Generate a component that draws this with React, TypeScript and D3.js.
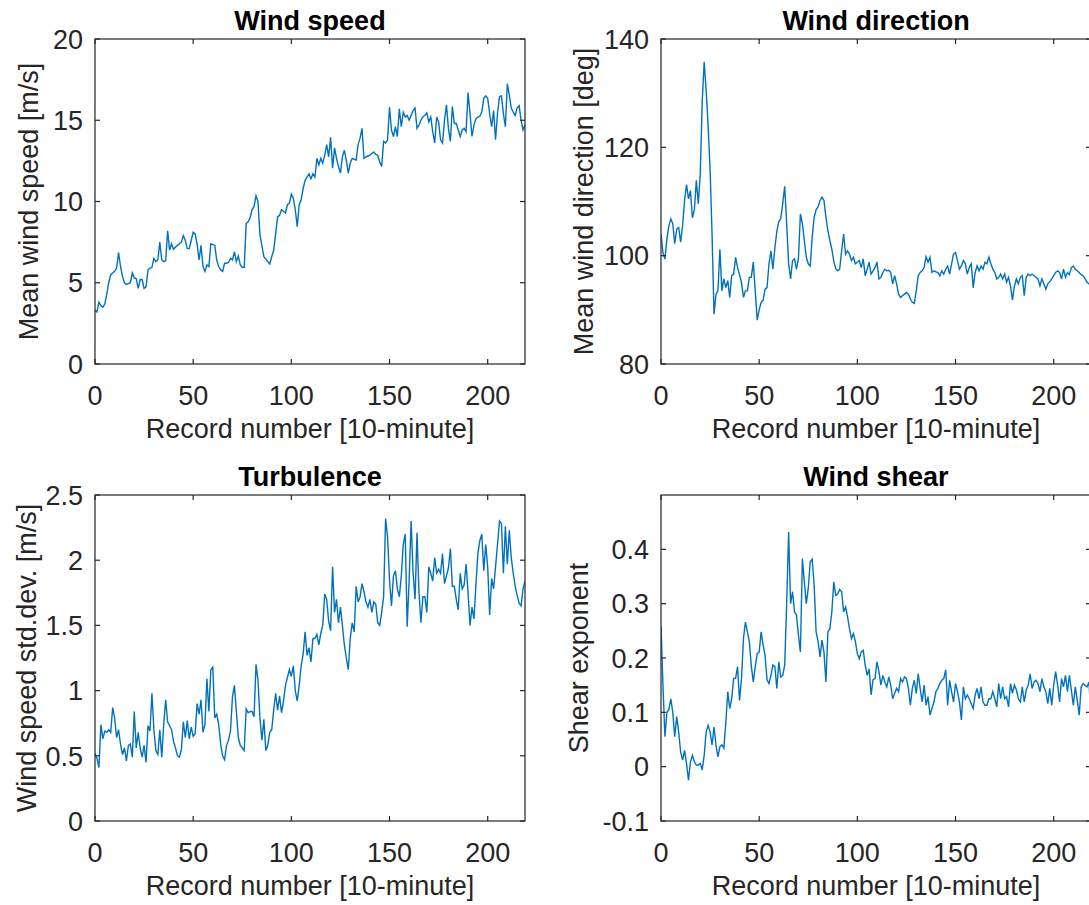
import React from "react";
import * as d3 from "d3";

const windSpeed = [
  3.3, 3.2, 3.8, 3.6, 3.5, 3.7, 4.3, 5.0, 5.5, 5.6, 5.7, 5.9, 6.85, 6.0, 5.4, 5.0, 4.9, 4.95, 5.0, 5.6,
  5.3, 5.25, 4.65, 5.2, 5.2, 4.65, 4.75, 5.8, 5.9, 5.95, 6.5, 6.3, 6.4, 7.5, 6.4, 6.3, 6.35, 8.2, 7.0, 7.4,
  7.05, 7.2, 7.3, 7.4, 7.5, 7.9, 7.6, 7.1, 7.1, 7.6, 8.1, 8.0, 7.4, 6.4, 7.3, 6.0, 5.7, 6.1, 6.0, 7.4,
  7.35, 7.3, 6.4, 6.0, 5.8, 5.7, 6.2, 6.2, 6.25, 6.5, 6.4, 6.9, 6.3, 6.65, 6.1, 5.95, 5.95, 8.65, 8.75, 9.0,
  9.5, 9.7, 10.35, 10.0, 7.95, 7.3, 6.6, 6.45, 6.3, 6.15, 6.6, 7.0, 8.0, 9.05, 9.15, 9.5, 9.4, 9.3, 9.8, 9.9,
  10.45, 10.2, 9.5, 8.45, 9.8, 10.1, 10.8, 11.3, 11.5, 11.7, 11.4, 11.7, 11.5, 12.65, 12.25, 12.65, 12.35, 12.85, 13.5, 12.75,
  13.95, 12.05, 13.3, 12.65, 12.15, 11.75, 12.75, 13.15, 12.55, 11.75, 12.35, 12.65, 12.6, 12.55, 13.5, 13.9, 14.5, 12.65, 12.75, 12.8,
  12.85, 12.95, 13.05, 12.9, 12.85, 12.45, 12.15, 13.7, 13.6, 13.8, 15.8, 14.4, 14.0, 14.6, 14.0, 15.7, 14.6, 15.5, 15.2, 15.3,
  15.0, 15.3, 15.6, 15.75, 14.5, 14.7, 15.0, 15.2, 15.3, 15.45, 14.9, 15.2, 14.3, 13.6, 15.2, 14.9, 13.8, 13.6, 15.0, 15.95,
  14.5, 13.7, 15.85, 14.8, 14.8, 14.4, 14.0, 14.4, 14.5, 14.3, 16.7, 15.4, 14.0, 14.7, 15.1, 15.2, 15.25, 15.5, 16.35, 16.5,
  16.35, 15.4, 14.6, 15.6, 13.8, 15.4, 16.45, 16.5, 15.4, 14.6, 17.25, 16.55, 15.75, 15.5, 15.3, 15.75, 15.9, 15.0, 14.4, 14.7,
];

const windDirection = [
  104.0, 100.5, 99.4, 103.0, 105.5, 106.8, 105.9, 102.2, 104.9, 105.2, 102.5, 105.5, 110.2, 113.1, 110.5, 112.0, 107.0, 108.5, 113.9, 109.6,
  115.1, 128.5, 135.8, 130.5, 124.0, 116.0, 104.0, 89.2, 92.9, 93.5, 101.2, 93.5, 95.7, 94.1, 95.4, 92.3, 96.3, 96.6, 99.7, 97.8,
  96.5, 95.0, 92.3, 93.5, 93.5, 96.0, 96.0, 98.8, 93.5, 88.1, 90.0, 91.4, 91.8, 93.8, 94.1, 98.5, 100.9, 97.5, 101.5, 104.5,
  106.3, 106.8, 109.6, 112.8, 106.0, 98.5, 95.7, 99.1, 99.4, 97.5, 99.5, 107.7, 105.9, 102.8, 99.7, 98.5, 98.1, 103.4, 107.1, 108.5,
  109.0, 110.2, 110.8, 110.2, 107.1, 104.6, 102.8, 101.2, 99.0, 97.6, 97.2, 97.5, 100.9, 104.0, 100.3, 100.9, 100.3, 99.1, 99.7, 98.5,
  98.8, 99.1, 97.8, 99.4, 96.3, 97.5, 98.8, 96.6, 97.2, 97.8, 98.8, 95.7, 96.0, 96.9, 97.5, 97.2, 97.3, 96.9, 94.8, 96.3,
  94.8, 92.9, 92.3, 92.6, 92.9, 93.2, 92.9, 92.0, 91.4, 91.2, 93.5, 96.3, 96.9, 97.2, 97.8, 99.8, 98.8, 99.7, 96.9, 97.2,
  97.0, 96.9, 96.3, 97.2, 96.6, 97.5, 98.1, 96.6, 98.5, 100.3, 100.6, 99.1, 97.5, 98.1, 99.1, 98.5, 96.6, 97.8, 98.5, 94.1,
  96.9, 98.1, 97.2, 98.1, 97.5, 98.8, 98.5, 99.7, 98.5, 97.5, 96.9, 95.7, 96.0, 96.6, 95.7, 96.6, 95.1, 96.0, 94.4, 91.8,
  94.4, 95.7, 94.8, 96.0, 96.3, 92.6, 96.0, 96.6, 96.3, 96.6, 96.3, 96.0, 95.7, 94.4, 95.7, 94.8, 93.8, 94.8, 95.2, 95.7,
  96.3, 96.9, 97.2, 96.9, 95.7, 97.5, 96.0, 96.9, 96.5, 97.8, 98.1, 97.5, 97.2, 96.9, 96.5, 96.3, 95.7, 95.1, 94.8, 95.0,
];

const turbulence = [
  0.52, 0.48, 0.41, 0.74, 0.63, 0.69, 0.68, 0.70, 0.68, 0.87, 0.79, 0.64, 0.70, 0.59, 0.51, 0.56, 0.46, 0.58, 0.59, 0.49,
  0.84, 0.56, 0.68, 0.56, 0.49, 0.58, 0.45, 0.73, 0.69, 0.98, 0.70, 0.54, 0.51, 0.70, 0.49, 0.74, 0.93, 0.76, 0.73, 0.70,
  0.61, 0.56, 0.50, 0.49, 0.55, 0.76, 0.64, 0.77, 0.63, 0.72, 0.65, 0.67, 0.90, 0.82, 0.93, 0.68, 0.74, 1.09, 0.84, 1.16,
  1.18, 0.79, 0.82, 0.74, 0.59, 0.50, 0.47, 0.58, 0.62, 0.69, 0.95, 1.04, 0.84, 0.64, 0.58, 0.56, 0.54, 0.86, 0.83, 0.84,
  0.84, 0.80, 1.20, 1.08, 0.79, 0.62, 0.78, 0.54, 0.58, 0.68, 0.70, 0.85, 0.98, 0.85, 0.96, 0.83, 0.92, 1.04, 1.10, 1.16,
  1.11, 1.19, 1.0, 0.92, 1.04, 1.19, 1.28, 1.45, 1.27, 1.33, 1.22, 1.40, 1.40, 1.43, 1.35, 1.44, 1.50, 1.74, 1.70, 1.53,
  1.46, 1.95, 1.60, 1.70, 1.52, 1.64, 1.50, 1.35, 1.25, 1.16, 1.40, 1.52, 1.45, 1.80, 1.68, 1.72, 1.82, 1.76, 1.68, 1.64,
  1.70, 1.60, 1.68, 1.66, 1.52, 1.50, 1.60, 1.72, 2.32, 2.18, 1.85, 1.65, 1.88, 1.92, 1.78, 1.72, 1.88, 2.12, 2.20, 1.49,
  1.85, 2.30, 1.90, 1.70, 2.21, 1.75, 1.52, 1.72, 1.72, 1.60, 1.95, 1.90, 1.84, 2.02, 1.90, 1.93, 1.90, 2.05, 1.82, 1.88,
  1.94, 2.09, 1.80, 1.80, 1.70, 1.62, 1.90, 1.78, 1.81, 1.97, 1.75, 1.50, 1.64, 1.55, 1.81, 2.05, 2.15, 2.20, 1.92, 2.12,
  1.95, 1.58, 1.86, 1.78, 1.95, 2.12, 2.30, 2.28, 1.90, 2.26, 1.97, 2.23, 2.02, 1.90, 1.80, 1.73, 1.67, 1.65, 1.78, 1.84,
];

const windShear = [
  0.26, 0.15, 0.055, 0.10, 0.105, 0.125, 0.10, 0.055, 0.092, 0.064, 0.027, 0.012, 0.030, 0.006, -0.025, 0.009, 0.021, 0.009, 0.003, 0.003,
  0.006, -0.006, 0.021, 0.064, 0.076, 0.064, 0.040, 0.073, 0.040, 0.018, 0.037, 0.040, 0.034, 0.080, 0.138, 0.107, 0.125, 0.162, 0.163, 0.184,
  0.122, 0.162, 0.236, 0.266, 0.248, 0.23, 0.185, 0.156, 0.184, 0.208, 0.211, 0.248, 0.224, 0.205, 0.160, 0.153, 0.168, 0.187, 0.184, 0.144,
  0.193, 0.165, 0.168, 0.187, 0.30, 0.432, 0.30, 0.322, 0.285, 0.279, 0.242, 0.211, 0.383, 0.34, 0.30, 0.328, 0.377, 0.382, 0.334, 0.248,
  0.23, 0.202, 0.233, 0.211, 0.156, 0.248, 0.254, 0.285, 0.34, 0.315, 0.318, 0.326, 0.322, 0.285, 0.294, 0.276, 0.254, 0.236, 0.245, 0.23,
  0.208, 0.199, 0.211, 0.214, 0.187, 0.168, 0.180, 0.132, 0.160, 0.162, 0.193, 0.175, 0.15, 0.168, 0.156, 0.147, 0.165, 0.15, 0.125, 0.135,
  0.144, 0.138, 0.162, 0.156, 0.165, 0.162, 0.144, 0.113, 0.144, 0.159, 0.135, 0.171, 0.144, 0.119, 0.15, 0.113, 0.129, 0.095, 0.107, 0.119,
  0.138, 0.144, 0.153, 0.159, 0.162, 0.178, 0.113, 0.159, 0.138, 0.119, 0.153, 0.138, 0.119, 0.086, 0.147, 0.125, 0.132, 0.125, 0.116, 0.107,
  0.132, 0.144, 0.125, 0.147, 0.119, 0.113, 0.113, 0.125, 0.125, 0.138, 0.125, 0.110, 0.153, 0.125, 0.147, 0.125, 0.129, 0.110, 0.153, 0.135,
  0.15, 0.141, 0.125, 0.119, 0.147, 0.119, 0.141, 0.15, 0.171, 0.144, 0.156, 0.159, 0.153, 0.138, 0.162, 0.147, 0.138, 0.116, 0.144, 0.113,
  0.15, 0.175, 0.15, 0.119, 0.162, 0.147, 0.168, 0.138, 0.168, 0.141, 0.113, 0.147, 0.122, 0.095, 0.147, 0.153, 0.15, 0.147, 0.156, 0.085,
];

const xTicks = [0, 50, 100, 150, 200];
const speedTicks = [0, 5, 10, 15, 20];
const directionTicks = [80, 100, 120, 140];
const turbulenceTicks = [0, 0.5, 1, 1.5, 2, 2.5];
const shearTicks = [-0.1, 0, 0.1, 0.2, 0.3, 0.4];

const FONT = "'Liberation Sans', Arial, Helvetica, sans-serif";
const AX = "#262626";
const LINE = "#0072BD";
const FS = 27;

type PanelProps = {
  x0: number; x1: number; y0: number; y1: number;
  yDomain: [number, number];
  yTicks: number[];
  values: number[];
  title: string;
  ylabel: string;
  ylabelX: number;
};

function Panel({ x0, x1, y0, y1, yDomain, yTicks, values, title, ylabel, ylabelX }: PanelProps) {
  const xs = d3.scaleLinear().domain([0, 219]).range([x0, x1]);
  const ys = d3.scaleLinear().domain(yDomain).range([y1, y0]);
  const line = d3.line<number>().x((_, i) => xs(i)).y((d) => ys(d));
  const tl = 5;
  const clipId = `clip-${x0}-${y0}`;
  return (
    <g>
      <defs>
        <clipPath id={clipId}>
          <rect x={x0} y={y0} width={x1 - x0} height={y1 - y0} />
        </clipPath>
      </defs>
      <path d={line(values) || ""} fill="none" stroke={LINE} strokeWidth={1.4} clipPath={`url(#${clipId})`} />
      <rect x={x0} y={y0} width={x1 - x0} height={y1 - y0} fill="none" stroke={AX} strokeWidth={1.2} />
      {xTicks.map((t) => (
        <g key={"x" + t}>
          <line x1={xs(t)} x2={xs(t)} y1={y1} y2={y1 - tl} stroke={AX} strokeWidth={1.2} />
          <line x1={xs(t)} x2={xs(t)} y1={y0} y2={y0 + tl} stroke={AX} strokeWidth={1.2} />
          <text x={xs(t)} y={y1 + 41} textAnchor="middle" fontSize={FS} fill={AX} fontFamily={FONT}>{t}</text>
        </g>
      ))}
      {yTicks.map((t) => (
        <g key={"y" + t}>
          <line x1={x0} x2={x0 + tl} y1={ys(t)} y2={ys(t)} stroke={AX} strokeWidth={1.2} />
          <line x1={x1} x2={x1 - tl} y1={ys(t)} y2={ys(t)} stroke={AX} strokeWidth={1.2} />
          <text x={x0 - 12} y={ys(t)} dy="0.36em" textAnchor="end" fontSize={FS} fill={AX} fontFamily={FONT}>{String(t)}</text>
        </g>
      ))}
      <text x={(x0 + x1) / 2} y={y0 - 9} textAnchor="middle" fontSize={FS} fontWeight="bold" fill="#000" fontFamily={FONT}>{title}</text>
      <text x={(x0 + x1) / 2} y={y1 + 74} textAnchor="middle" fontSize={FS} fill={AX} fontFamily={FONT}>Record number [10-minute]</text>
      <text transform={`translate(${ylabelX},${(y0 + y1) / 2}) rotate(-90)`} textAnchor="middle" fontSize={FS} fill={AX} fontFamily={FONT}>{ylabel}</text>
    </g>
  );
}

export default function App() {
  return (
    <svg width={1089} height={905} style={{ position: "absolute", left: 0, top: 0, background: "#fff" }}>
      <rect x={0} y={0} width={1089} height={905} fill="#fff" />
      <Panel x0={95} x1={525} y0={39} y1={364} yDomain={[0, 20]} yTicks={speedTicks} values={windSpeed}
        title="Wind speed" ylabel="Mean wind speed [m/s]" ylabelX={38} />
      <Panel x0={661} x1={1091} y0={39} y1={364} yDomain={[80, 140]} yTicks={directionTicks} values={windDirection}
        title="Wind direction" ylabel="Mean wind direction [deg]" ylabelX={593} />
      <Panel x0={95} x1={525} y0={495} y1={821} yDomain={[0, 2.5]} yTicks={turbulenceTicks} values={turbulence}
        title="Turbulence" ylabel="Wind speed std.dev. [m/s]" ylabelX={36} />
      <Panel x0={661} x1={1091} y0={495} y1={821} yDomain={[-0.1, 0.5]} yTicks={shearTicks} values={windShear}
        title="Wind shear" ylabel="Shear exponent" ylabelX={588} />
    </svg>
  );
}
